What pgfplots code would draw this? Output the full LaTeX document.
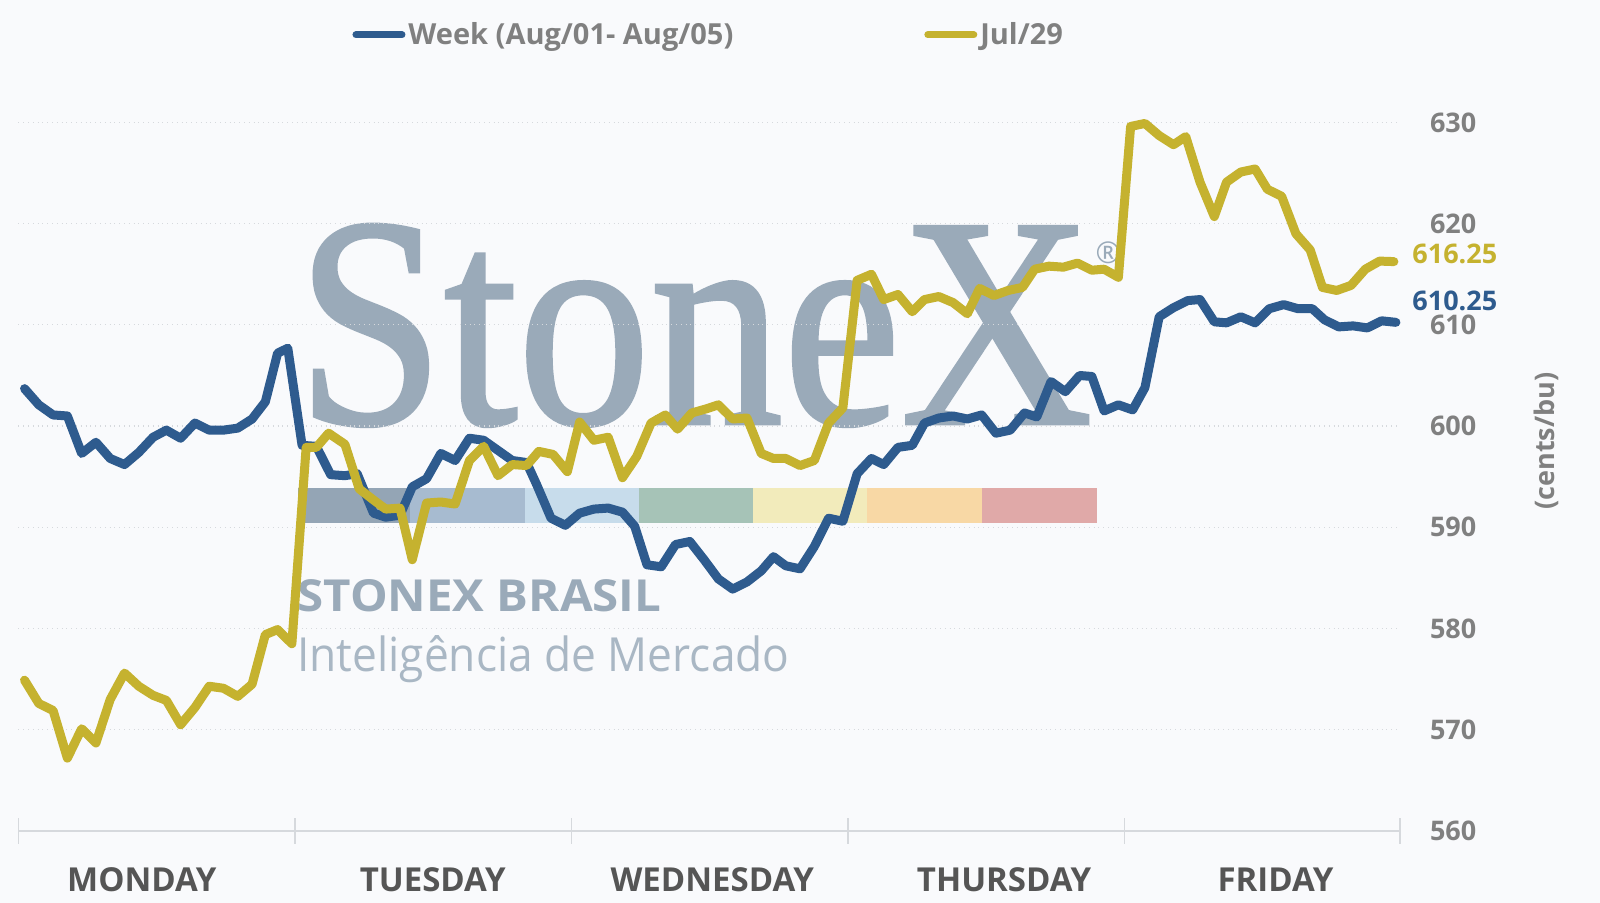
\documentclass[border=0pt]{standalone}
\usepackage{fontspec}
\setmainfont{Open Sans}
\newfontfamily\serifwm[FakeBold=1.2]{Liberation Serif}
\usepackage{graphicx}
\usepackage{pgfplots}
\pgfplotsset{compat=1.18}
\definecolor{bg}{HTML}{F9FAFC}
\definecolor{wkblue}{HTML}{2E5B8E}
\definecolor{julgold}{HTML}{C5B22F}
\definecolor{tickgray}{HTML}{808080}
\definecolor{daygray}{HTML}{555555}
\definecolor{gridgray}{HTML}{D6D9DD}
\definecolor{wm}{HTML}{9AAAB9}
\definecolor{wmlight}{HTML}{A9B7C4}
\definecolor{cbA}{HTML}{94A5B5}
\definecolor{cbB}{HTML}{A7BBD0}
\definecolor{cbC}{HTML}{C7DCEB}
\definecolor{cbD}{HTML}{A6C3B7}
\definecolor{cbE}{HTML}{F2EBBB}
\definecolor{cbF}{HTML}{F8D8A5}
\definecolor{cbG}{HTML}{E0A9A8}
\begin{document}
\begin{tikzpicture}[x=1pt,y=1pt]
\fill[bg] (0,0) rectangle (800,451.5);
\useasboundingbox (0,0) rectangle (800,451.5);
% watermark
\node[anchor=base west, inner sep=0pt, text=wm] at (148,239.75) {\resizebox{398pt}{99.5pt}{\serifwm StoneX}};
\node[text=wm, inner sep=0pt, font=\fontsize{15}{16}\selectfont] at (554,325) {®};
\fill[cbA] (149,190) rectangle (205,207.5);
\fill[cbB] (205,190) rectangle (262.5,207.5);
\fill[cbC] (262.5,190) rectangle (319.5,207.5);
\fill[cbD] (319.5,190) rectangle (376.5,207.5);
\fill[cbE] (376.5,190) rectangle (433.5,207.5);
\fill[cbF] (433.5,190) rectangle (491,207.5);
\fill[cbG] (491,190) rectangle (548.5,207.5);
\node[anchor=base west, inner sep=0pt, text=wm] at (148.5,145.5) {\resizebox{182pt}{16pt}{\bfseries STONEX BRASIL}};
\node[anchor=base west, inner sep=0pt, text=wmlight] at (148.5,115.75) {\resizebox{246pt}{18pt}{Inteligência de Mercado}};
\begin{axis}[
  at={(9.2pt,36pt)}, anchor=south west,
  width=690.8pt, height=379.6pt, scale only axis,
  xmin=18, xmax=1372, ymin=560, ymax=635,
  axis line style={draw=none},
  xtick={18,289,560,831,1102,1372}, xticklabels={},
  xtick pos=bottom, tick align=center,
  x tick style={gridgray, line width=0.8pt},
  major tick length=13pt,
  ytick={560,570,...,630},
  ytick pos=right, yticklabel pos=right,
  y tick style={draw=none},
  ymajorgrids, grid style={gridgray, dotted, line width=0.6pt},
  /pgf/number format/assume math mode=true,
  yticklabel style={anchor=west, inner sep=0pt, xshift=8.3pt, text=tickgray, font=\fontsize{13.5}{14}\selectfont\bfseries},
  legend columns=2,
  legend style={at={(0.5,1)}, anchor=center, yshift=18.5pt, draw=none, fill=none,
    font=\fontsize{14.5}{15}\selectfont\bfseries, text=tickgray,
    nodes={inner sep=1.5pt},
    /tikz/every even column/.append style={column sep=94pt}},
  legend image code/.code={\draw[#1, line cap=round, line width=3.5pt] (0pt,0pt) -- (23pt,0pt);},
  clip=false,
]
\draw[gridgray, line width=0.8pt] (rel axis cs:0,0) -- (rel axis cs:1,0);
\addplot[wkblue, line width=4.5pt, line join=round, line cap=round] coordinates {
(24,603.7) (38,602.1) (52,601.1) (66,601.0) (80,597.3) (94,598.4) (108,596.8) (122,596.2)
(136,597.4) (150,598.9) (163,599.6) (177,598.8) (191,600.3) (205,599.6) (219,599.6) (233,599.8)
(247,600.7) (260,602.4) (272,607.2) (282,607.7) (296,598.1) (310,598.0) (324,595.2) (338,595.1)
(350,595.3) (366,591.4) (378,591.0) (392,591.2) (404,594.0) (418,594.8) (432,597.3) (446,596.6)
(460,598.8) (474,598.6) (488,597.6) (502,596.6) (516,596.4) (526,594.2) (540,590.9) (554,590.2)
(568,591.4) (582,591.8) (596,591.9) (610,591.5) (622,590.1) (634,586.3) (648,586.1) (662,588.3)
(676,588.6) (690,586.8) (704,584.9) (718,583.9) (732,584.6) (746,585.7) (758,587.1) (770,586.2)
(784,585.9) (798,588.1) (812,590.9) (826,590.6) (840,595.3) (854,596.8) (866,596.2) (880,597.9)
(894,598.1) (906,600.3) (920,600.8) (934,601.0) (948,600.7) (962,601.1) (976,599.3) (990,599.6)
(1004,601.3) (1016,600.9) (1030,604.4) (1044,603.4) (1058,605.0) (1070,604.9) (1082,601.5) (1096,602.1)
(1110,601.6) (1122,603.8) (1136,610.8) (1150,611.7) (1164,612.4) (1176,612.5) (1190,610.3) (1202,610.2)
(1216,610.8) (1230,610.2) (1244,611.6) (1258,612.0) (1272,611.6) (1286,611.6) (1298,610.5) (1312,609.8)
(1326,609.9) (1340,609.7) (1354,610.4) (1368,610.25)
};
\addlegendentry{Week (Aug/01- Aug/05)}
\addplot[julgold, line width=4.5pt, line join=round, line cap=round] coordinates {
(24,574.9) (38,572.6) (52,571.9) (66,567.2) (80,570.1) (94,568.7) (108,573.0) (122,575.6)
(136,574.3) (150,573.4) (163,572.9) (177,570.5) (191,572.2) (205,574.3) (219,574.1) (233,573.3)
(247,574.5) (260,579.4) (272,579.9) (286,578.5) (300,597.9) (310,597.9) (322,599.3) (338,598.2)
(352,593.8) (366,592.7) (378,591.8) (392,591.9) (404,586.8) (418,592.4) (432,592.5) (446,592.3)
(460,596.6) (474,598.0) (488,595.1) (502,596.2) (516,596.1) (528,597.5) (542,597.2) (556,595.5)
(568,600.4) (582,598.6) (596,598.9) (610,594.9) (624,597.0) (638,600.3) (652,601.1) (664,599.7)
(678,601.3) (692,601.7) (704,602.1) (718,600.7) (732,600.8) (746,597.3) (758,596.8) (770,596.8)
(784,596.1) (798,596.6) (812,600.3) (826,601.8) (840,614.4) (854,615.0) (866,612.5) (880,613.0)
(894,611.3) (906,612.5) (920,612.8) (934,612.2) (948,611.1) (960,613.6) (974,612.9) (988,613.4)
(1002,613.7) (1014,615.5) (1028,615.8) (1042,615.7) (1056,616.1) (1070,615.4) (1082,615.5) (1096,614.7)
(1108,629.6) (1122,629.9) (1136,628.7) (1150,627.8) (1162,628.6) (1176,624.1) (1190,620.7) (1202,624.1)
(1216,625.1) (1230,625.4) (1242,623.4) (1256,622.7) (1270,619.0) (1284,617.4) (1296,613.7) (1310,613.4)
(1324,613.9) (1338,615.5) (1352,616.3) (1366,616.25)
};
\addlegendentry{Jul/29}
\node[anchor=west, inner sep=0pt, text=julgold, font=\fontsize{13.5}{14}\selectfont\bfseries] at (axis cs:1372,617) [xshift=6pt] {616.25};
\node[anchor=west, inner sep=0pt, text=wkblue, font=\fontsize{13.5}{14}\selectfont\bfseries] at (axis cs:1372,612.4) [xshift=6pt] {610.25};
\foreach \d/\xx in {MONDAY/139, TUESDAY/424, WEDNESDAY/698, THURSDAY/984, FRIDAY/1250} {
  \edef\tmp{\noexpand\node[inner sep=0pt, text=daygray, font=\noexpand\fontsize{16.5}{17}\noexpand\selectfont\noexpand\bfseries] at (axis cs:\xx,560) [yshift=-24.5pt] {\d};}
  \tmp
}
\end{axis}
\node[rotate=90, inner sep=0pt, text=tickgray, font=\fontsize{13.5}{14}\selectfont\bfseries] at (773,231) {(cents/bu)};
\end{tikzpicture}
\end{document}
